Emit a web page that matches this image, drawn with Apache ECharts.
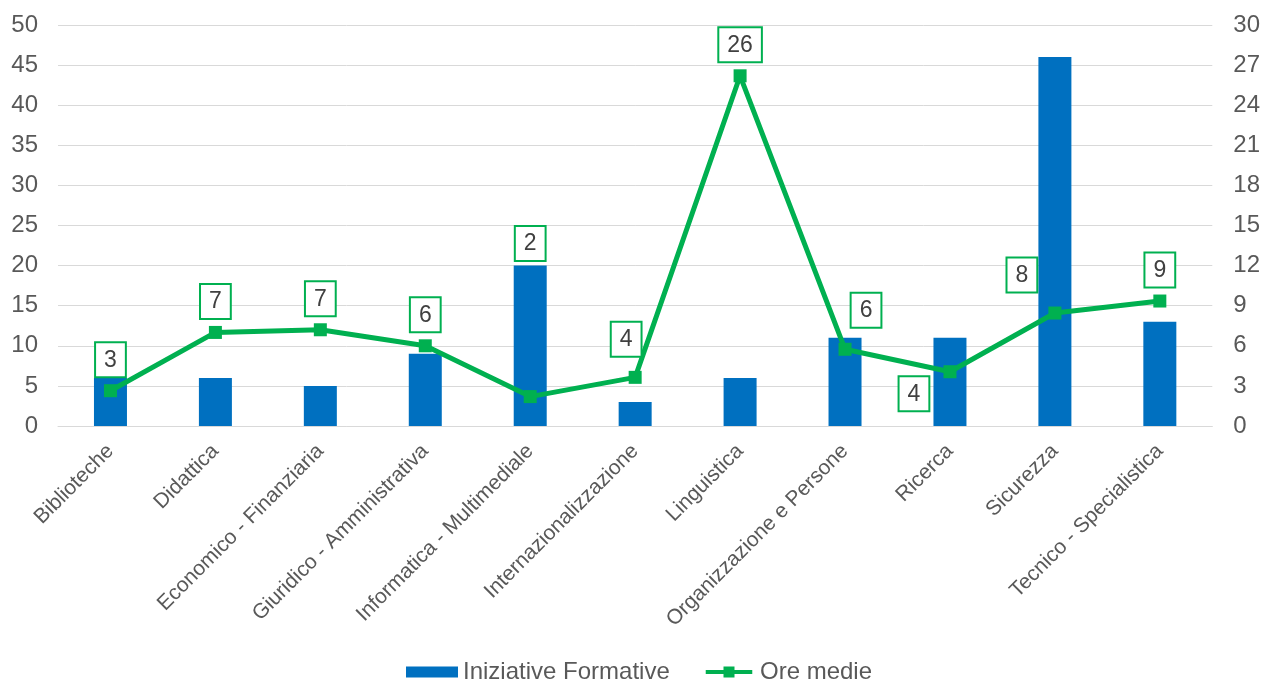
<!DOCTYPE html>
<html>
<head>
<meta charset="utf-8">
<script src="https://cdn.jsdelivr.net/npm/echarts@6/dist/echarts.min.js"></script>
<style>
html,body{margin:0;padding:0;background:#fff;}
#chart{width:1263px;height:681px;}
</style>
</head>
<body>
<div id="chart"></div>
<script>
const categories = ["Biblioteche","Didattica","Economico - Finanziaria","Giuridico - Amministrativa","Informatica - Multimediale","Internazionalizzazione","Linguistica","Organizzazione e Persone","Ricerca","Sicurezza","Tecnico - Specialistica"];
const iniziativeFormative = [6, 6, 5, 9, 20, 3, 6, 11, 11, 46, 13];
const oreMedie = [2.64, 7.0, 7.2, 6.0, 2.2, 3.64, 26.2, 5.74, 4.06, 8.45, 9.35];
const leftTicks = {min: 0, max: 50, interval: 5};
const rightTicks = {min: 0, max: 30, interval: 3};

// label placement tweaks (styling only)
const labelOffsets = {
  "Informatica - Multimediale": [0, -122],
  "Internazionalizzazione": [-9, -7],
  "Organizzazione e Persone": [21, -8],
  "Ricerca": [-36, 53],
  "Sicurezza": [-33, -7]
};

const blue = '#0070C0', green = '#00B050', grey = '#595959';
const font = 'Liberation Sans, Arial, sans-serif';

const lineData = oreMedie.map((v, i) => {
  const o = labelOffsets[categories[i]];
  return o ? {value: v, label: {offset: o}} : v;
});

const lineIcon = 'path://M0,4 L21,4 L21,0 L34,0 L34,4 L55,4 L55,9 L34,9 L34,13 L21,13 L21,9 L0,9 Z';

const chart = echarts.init(document.getElementById('chart'));
chart.setOption({
  animation: false,
  textStyle: {fontFamily: font},
  grid: {left: 58, right: 48, top: 25, bottom: 255, containLabel: false},
  legend: {
    left: 401, top: 655,
    itemWidth: 52, itemHeight: 11, itemGap: 36,
    textStyle: {fontSize: 24, color: grey, fontFamily: font},
    data: [
      {name: 'Iniziative Formative', icon: 'rect'},
      {name: 'Ore medie', icon: lineIcon, itemStyle: {color: green}}
    ]
  },
  xAxis: {
    type: 'category', data: categories,
    axisLine: {show: true, lineStyle: {color: '#D9D9D9', width: 1}},
    axisTick: {show: false},
    axisLabel: {rotate: 45, interval: 0, fontSize: 21, color: grey, margin: 22, fontFamily: font}
  },
  yAxis: [
    {type: 'value', min: leftTicks.min, max: leftTicks.max, interval: leftTicks.interval,
     axisLine: {show: false}, axisTick: {show: false},
     axisLabel: {fontSize: 24, color: grey, margin: 20, fontFamily: font},
     splitLine: {lineStyle: {color: '#D9D9D9', width: 1}}},
    {type: 'value', min: rightTicks.min, max: rightTicks.max, interval: rightTicks.interval,
     position: 'right',
     axisLine: {show: false}, axisTick: {show: false},
     axisLabel: {fontSize: 24, color: grey, margin: 21, fontFamily: font},
     splitLine: {show: false}}
  ],
  series: [
    {name: 'Iniziative Formative', type: 'bar', yAxisIndex: 0, data: iniziativeFormative,
     barWidth: 33, itemStyle: {color: blue}},
    {name: 'Ore medie', type: 'line', yAxisIndex: 1, data: lineData,
     symbol: 'rect', symbolSize: 13,
     lineStyle: {color: green, width: 5}, itemStyle: {color: green},
     z: 5,
     label: {show: true, position: 'top', distance: 8,
       formatter: p => String(Math.round(p.value)),
       fontSize: 23, color: '#404040', fontFamily: font,
       backgroundColor: '#fff', borderColor: green, borderWidth: 2,
       padding: [5, 8, 4, 8], lineHeight: 24}}
  ]
});
</script>
</body>
</html>
